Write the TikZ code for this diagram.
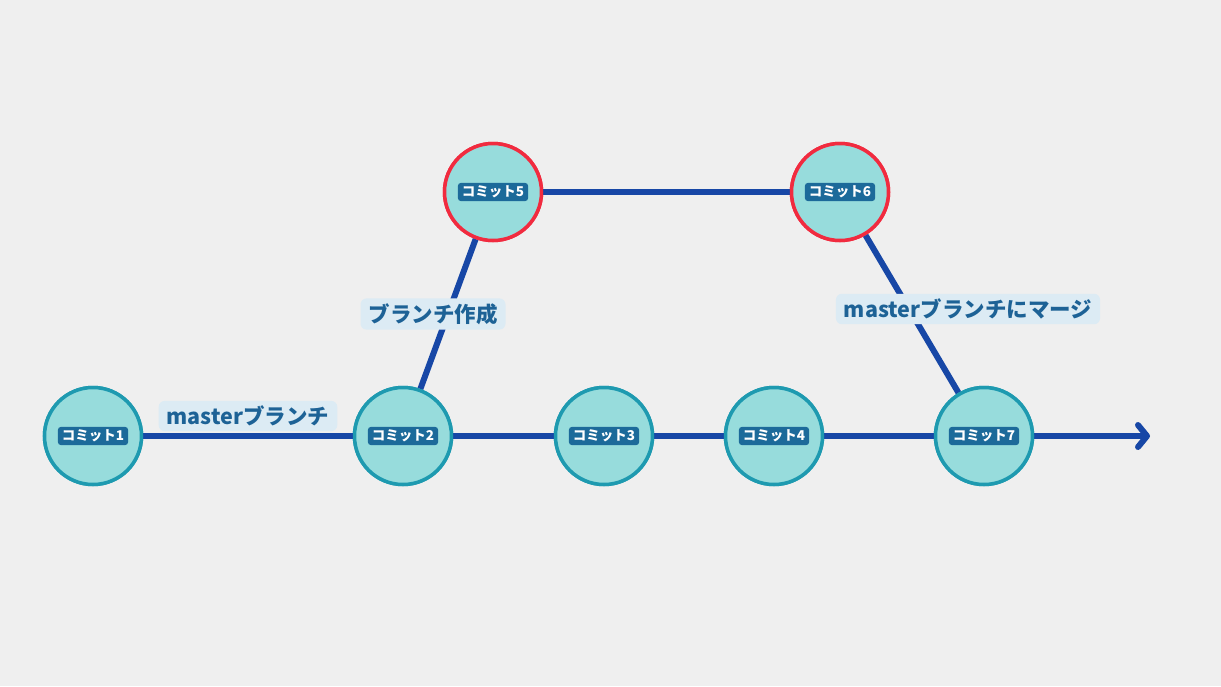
\documentclass[tikz,border=0pt]{standalone}
\usepackage{fontspec}
\setmainfont{Noto Sans CJK JP}
\usetikzlibrary{arrows.meta}
\definecolor{bg}{HTML}{EFEFEF}
\definecolor{cfill}{HTML}{97DCDC}
\definecolor{cedge}{HTML}{1E9AB0}
\definecolor{redge}{HTML}{F12B3F}
\definecolor{lineblue}{HTML}{1747A6}
\definecolor{lblbg}{HTML}{DCEBF4}
\definecolor{lbltext}{HTML}{1D6296}
\definecolor{tagbg}{HTML}{1C6A9A}
\tikzset{
  commit/.style={circle, minimum size=97pt, inner sep=0pt, fill=cfill, draw=cedge, line width=3.5pt},
  branchcommit/.style={commit, draw=redge},
  tag/.style={fill=tagbg, text=white, rounded corners=3pt, inner xsep=4pt, inner ysep=3pt, font=\bfseries\fontsize{13.5}{14}\selectfont},
  edge/.style={draw=lineblue, line width=6pt},
  lbl/.style={fill=lblbg, text=lbltext, rounded corners=6pt, inner xsep=8pt, inner ysep=5pt, font=\bfseries\fontsize{21.5}{23}\selectfont},
}
\begin{document}
\begin{tikzpicture}[x=1pt,y=-1pt]
\fill[bg] (0,0) rectangle (1221,686);
\useasboundingbox (0,0) rectangle (1221,686);
\coordinate (end) at (1150,436);
\node[commit] (c1) at (93,436) {};
\node[commit] (c2) at (403,436) {};
\node[commit] (c3) at (604,436) {};
\node[commit] (c4) at (774,436) {};
\node[commit] (c7) at (984,436) {};
\node[branchcommit] (c5) at (493,192) {};
\node[branchcommit] (c6) at (840,192) {};
\draw[edge] (c1) -- (c2);
\draw[edge] (c2) -- (c3);
\draw[edge] (c3) -- (c4);
\draw[edge] (c4) -- (c7);
\draw[edge, -{Straight Barb[length=9pt, width=22pt, line cap=round, line join=round]}] (c7) -- (end);
\draw[edge] (c2) -- (c5);
\draw[edge] (c5) -- (c6);
\draw[edge] (c6) -- (c7);
\node[commit] at (c1) {};
\node[commit] at (c2) {};
\node[commit] at (c3) {};
\node[commit] at (c4) {};
\node[commit] at (c7) {};
\node[branchcommit] at (c5) {};
\node[branchcommit] at (c6) {};
\node[tag] (t1) at (c1) {コミット1};
\node[tag] (t2) at (c2) {コミット2};
\node[tag] (t3) at (c3) {コミット3};
\node[tag] (t4) at (c4) {コミット4};
\node[tag] (t7) at (c7) {コミット7};
\node[tag] (t5) at (c5) {コミット5};
\node[tag] (t6) at (c6) {コミット6};
\node[lbl] (l1) at (248,416) {masterブランチ};
\node[lbl] (l2) at (433,314) {ブランチ作成};
\node[lbl] (l3) at (968,309) {masterブランチにマージ};
\end{tikzpicture}
\end{document}
